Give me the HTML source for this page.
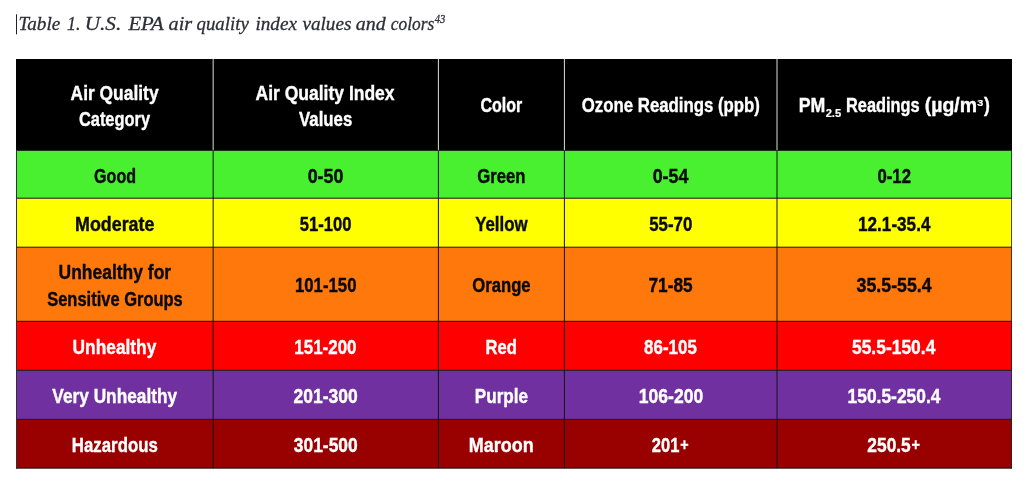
<!DOCTYPE html>
<html lang="en"><head><meta charset="utf-8"><title>Table 1. U.S. EPA air quality index values and colors</title>
<style>
html,body{margin:0;padding:0;background:#fff;}
body{width:1023px;height:487px;overflow:hidden;}
svg{display:block;}
.b{font-family:"Liberation Sans",Arial,sans-serif;font-weight:bold;}
.t{font-family:"Liberation Serif","Times New Roman",serif;font-style:italic;stroke:#2e2e38;stroke-width:0.3px;}
</style></head><body>
<svg width="1023" height="487" viewBox="0 0 1023 487">
<rect x="0" y="0" width="1023" height="487" fill="#ffffff"/>
<rect x="16" y="14.3" width="1" height="20" fill="#222228"/>
<rect x="16" y="59" width="996" height="91.90" fill="#000000"/>
<rect x="16" y="150.9" width="996" height="47.30" fill="#48f030"/>
<rect x="16" y="198.2" width="996" height="49.00" fill="#ffff00"/>
<rect x="16" y="247.2" width="996" height="74.10" fill="#ff780c"/>
<rect x="16" y="321.3" width="996" height="49.00" fill="#ff0000"/>
<rect x="16" y="370.3" width="996" height="49.05" fill="#7030a0"/>
<rect x="16" y="419.35" width="996" height="48.80" fill="#990000"/>
<rect x="16" y="197.70" width="996" height="1" fill="#141414"/>
<rect x="16" y="246.70" width="996" height="1" fill="#141414"/>
<rect x="16" y="320.80" width="996" height="1" fill="#141414"/>
<rect x="16" y="369.80" width="996" height="1" fill="#141414"/>
<rect x="16" y="418.85" width="996" height="1" fill="#141414"/>
<rect x="16" y="467.65" width="996" height="1" fill="#141414"/>
<rect x="16" y="150.9" width="1" height="317.75" fill="#303036"/>
<rect x="1011.2" y="150.9" width="0.8" height="317.75" fill="#222"/>
<rect x="212.65" y="150.9" width="1" height="317.25" fill="#141414"/>
<rect x="437.90" y="150.9" width="1" height="317.25" fill="#141414"/>
<rect x="563.90" y="150.9" width="1" height="317.25" fill="#141414"/>
<rect x="776.50" y="150.9" width="1" height="317.25" fill="#141414"/>
<rect x="212.65" y="59" width="1" height="91.05" fill="#dcdcdc"/>
<rect x="437.90" y="59" width="1" height="91.05" fill="#dcdcdc"/>
<rect x="563.90" y="59" width="1" height="91.05" fill="#dcdcdc"/>
<rect x="776.50" y="59" width="1" height="91.05" fill="#dcdcdc"/>
<text class="b"><tspan x="70.59" y="99.7" font-size="20.6" fill="#ffffff" stroke="#ffffff" stroke-width="0.4" textLength="87.98" lengthAdjust="spacingAndGlyphs">Air Quality</tspan> <tspan x="78.90" y="125.6" font-size="20.6" fill="#ffffff" stroke="#ffffff" stroke-width="0.4" textLength="71.18" lengthAdjust="spacingAndGlyphs">Category</tspan></text>
<text class="b"><tspan x="255.54" y="99.7" font-size="20.6" fill="#ffffff" stroke="#ffffff" stroke-width="0.4" textLength="139.06" lengthAdjust="spacingAndGlyphs">Air Quality Index</tspan> <tspan x="299.10" y="125.6" font-size="20.6" fill="#ffffff" stroke="#ffffff" stroke-width="0.4" textLength="53.18" lengthAdjust="spacingAndGlyphs">Values</tspan></text>
<text class="b" x="480.51" y="112" font-size="20.6" fill="#ffffff" stroke="#ffffff" stroke-width="0.4" textLength="41.86" lengthAdjust="spacingAndGlyphs">Color</text>
<text class="b" x="581.79" y="112" font-size="20.6" fill="#ffffff" stroke="#ffffff" stroke-width="0.4" textLength="178.19" lengthAdjust="spacingAndGlyphs">Ozone Readings (ppb)</text>
<text class="b"><tspan x="798.78" y="112" font-size="20.6" fill="#ffffff" stroke="#ffffff" stroke-width="0.4" textLength="26.61" lengthAdjust="spacingAndGlyphs">PM</tspan><tspan x="825.65" y="116.6" font-size="11" fill="#ffffff" stroke="#ffffff" stroke-width="0.21" textLength="15.52" lengthAdjust="spacingAndGlyphs">2.5</tspan> <tspan x="846.01" y="112" font-size="20.6" fill="#ffffff" stroke="#ffffff" stroke-width="0.4" textLength="73.56" lengthAdjust="spacingAndGlyphs">Readings</tspan> <tspan x="924.77" y="112" font-size="20.6" fill="#ffffff" stroke="#ffffff" stroke-width="0.4" textLength="52.27" lengthAdjust="spacingAndGlyphs">(µg/m</tspan><tspan x="977.35" y="105.9" font-size="9" fill="#ffffff" stroke="#ffffff" stroke-width="0.17" textLength="6.06" lengthAdjust="spacingAndGlyphs">3</tspan><tspan x="983.96" y="112" font-size="20.6" fill="#ffffff" stroke="#ffffff" stroke-width="0.4" textLength="5.87" lengthAdjust="spacingAndGlyphs">)</tspan></text>
<text class="b" x="94.11" y="182.8" font-size="20.6" fill="#0a0a0a" stroke="#0a0a0a" stroke-width="0.4" textLength="41.88" lengthAdjust="spacingAndGlyphs">Good</text>
<text class="b" x="307.66" y="182.8" font-size="20.6" fill="#0a0a0a" stroke="#0a0a0a" stroke-width="0.4" textLength="35.77" lengthAdjust="spacingAndGlyphs">0-50</text>
<text class="b" x="477.24" y="182.8" font-size="20.6" fill="#0a0a0a" stroke="#0a0a0a" stroke-width="0.4" textLength="48.35" lengthAdjust="spacingAndGlyphs">Green</text>
<text class="b" x="652.71" y="182.8" font-size="20.6" fill="#0a0a0a" stroke="#0a0a0a" stroke-width="0.4" textLength="35.67" lengthAdjust="spacingAndGlyphs">0-54</text>
<text class="b" x="877.49" y="182.8" font-size="20.6" fill="#0a0a0a" stroke="#0a0a0a" stroke-width="0.4" textLength="33.50" lengthAdjust="spacingAndGlyphs">0-12</text>
<text class="b" x="75.03" y="230.9" font-size="20.6" fill="#0a0a0a" stroke="#0a0a0a" stroke-width="0.4" textLength="79.36" lengthAdjust="spacingAndGlyphs">Moderate</text>
<text class="b" x="299.70" y="230.9" font-size="20.6" fill="#0a0a0a" stroke="#0a0a0a" stroke-width="0.4" textLength="51.72" lengthAdjust="spacingAndGlyphs">51-100</text>
<text class="b" x="475.15" y="230.9" font-size="20.6" fill="#0a0a0a" stroke="#0a0a0a" stroke-width="0.4" textLength="52.39" lengthAdjust="spacingAndGlyphs">Yellow</text>
<text class="b" x="649.19" y="230.9" font-size="20.6" fill="#0a0a0a" stroke="#0a0a0a" stroke-width="0.4" textLength="43.12" lengthAdjust="spacingAndGlyphs">55-70</text>
<text class="b" x="858.06" y="230.9" font-size="20.6" fill="#0a0a0a" stroke="#0a0a0a" stroke-width="0.4" textLength="72.37" lengthAdjust="spacingAndGlyphs">12.1-35.4</text>
<text class="b"><tspan x="58.55" y="279.2" font-size="20.6" fill="#0a0a0a" stroke="#0a0a0a" stroke-width="0.4" textLength="112.56" lengthAdjust="spacingAndGlyphs">Unhealthy for</tspan> <tspan x="47.15" y="305.6" font-size="20.6" fill="#0a0a0a" stroke="#0a0a0a" stroke-width="0.4" textLength="135.64" lengthAdjust="spacingAndGlyphs">Sensitive Groups</tspan></text>
<text class="b" x="294.98" y="292.2" font-size="20.6" fill="#0a0a0a" stroke="#0a0a0a" stroke-width="0.4" textLength="61.50" lengthAdjust="spacingAndGlyphs">101-150</text>
<text class="b" x="472.24" y="292.2" font-size="20.6" fill="#0a0a0a" stroke="#0a0a0a" stroke-width="0.4" textLength="58.41" lengthAdjust="spacingAndGlyphs">Orange</text>
<text class="b" x="648.48" y="292.2" font-size="20.6" fill="#0a0a0a" stroke="#0a0a0a" stroke-width="0.4" textLength="44.14" lengthAdjust="spacingAndGlyphs">71-85</text>
<text class="b" x="856.53" y="292.2" font-size="20.6" fill="#0a0a0a" stroke="#0a0a0a" stroke-width="0.4" textLength="75.15" lengthAdjust="spacingAndGlyphs">35.5-55.4</text>
<text class="b" x="72.56" y="353.8" font-size="20.6" fill="#ffffff" stroke="#ffffff" stroke-width="0.4" textLength="83.80" lengthAdjust="spacingAndGlyphs">Unhealthy</text>
<text class="b" x="294.32" y="353.8" font-size="20.6" fill="#ffffff" stroke="#ffffff" stroke-width="0.4" textLength="62.17" lengthAdjust="spacingAndGlyphs">151-200</text>
<text class="b" x="485.59" y="353.8" font-size="20.6" fill="#ffffff" stroke="#ffffff" stroke-width="0.4" textLength="31.35" lengthAdjust="spacingAndGlyphs">Red</text>
<text class="b" x="644.09" y="353.8" font-size="20.6" fill="#ffffff" stroke="#ffffff" stroke-width="0.4" textLength="52.73" lengthAdjust="spacingAndGlyphs">86-105</text>
<text class="b" x="851.93" y="353.8" font-size="20.6" fill="#ffffff" stroke="#ffffff" stroke-width="0.4" textLength="83.46" lengthAdjust="spacingAndGlyphs">55.5-150.4</text>
<text class="b" x="52.35" y="402.8" font-size="20.6" fill="#ffffff" stroke="#ffffff" stroke-width="0.4" textLength="124.76" lengthAdjust="spacingAndGlyphs">Very Unhealthy</text>
<text class="b" x="293.58" y="402.8" font-size="20.6" fill="#ffffff" stroke="#ffffff" stroke-width="0.4" textLength="64.18" lengthAdjust="spacingAndGlyphs">201-300</text>
<text class="b" x="474.81" y="402.8" font-size="20.6" fill="#ffffff" stroke="#ffffff" stroke-width="0.4" textLength="53.33" lengthAdjust="spacingAndGlyphs">Purple</text>
<text class="b" x="638.79" y="402.8" font-size="20.6" fill="#ffffff" stroke="#ffffff" stroke-width="0.4" textLength="64.47" lengthAdjust="spacingAndGlyphs">106-200</text>
<text class="b" x="847.55" y="402.8" font-size="20.6" fill="#ffffff" stroke="#ffffff" stroke-width="0.4" textLength="92.92" lengthAdjust="spacingAndGlyphs">150.5-250.4</text>
<text class="b" x="71.83" y="451.9" font-size="20.6" fill="#ffffff" stroke="#ffffff" stroke-width="0.4" textLength="85.98" lengthAdjust="spacingAndGlyphs">Hazardous</text>
<text class="b" x="293.79" y="451.9" font-size="20.6" fill="#ffffff" stroke="#ffffff" stroke-width="0.4" textLength="63.97" lengthAdjust="spacingAndGlyphs">301-500</text>
<text class="b" x="468.77" y="451.9" font-size="20.6" fill="#ffffff" stroke="#ffffff" stroke-width="0.4" textLength="64.86" lengthAdjust="spacingAndGlyphs">Maroon</text>
<text class="b"><tspan x="651.80" y="451.9" font-size="20.6" fill="#ffffff" stroke="#ffffff" stroke-width="0.4" textLength="27.56" lengthAdjust="spacingAndGlyphs">201</tspan><tspan x="680.18" y="450.2" font-size="17" fill="#ffffff" stroke="#ffffff" stroke-width="0.33" textLength="8.39" lengthAdjust="spacingAndGlyphs">+</tspan></text>
<text class="b"><tspan x="867.33" y="451.9" font-size="20.6" fill="#ffffff" stroke="#ffffff" stroke-width="0.4" textLength="43.43" lengthAdjust="spacingAndGlyphs">250.5</tspan><tspan x="911.57" y="450.2" font-size="17" fill="#ffffff" stroke="#ffffff" stroke-width="0.33" textLength="8.50" lengthAdjust="spacingAndGlyphs">+</tspan></text>
<text class="t"><tspan x="18.40" y="29.5" font-size="19.5" fill="#2e2e38" textLength="41.85" lengthAdjust="spacingAndGlyphs">Table</tspan> <tspan x="67.04" y="29.5" font-size="19.5" fill="#2e2e38" textLength="13.46" lengthAdjust="spacingAndGlyphs">1.</tspan> <tspan x="84.73" y="29.5" font-size="19.5" fill="#2e2e38" textLength="36.49" lengthAdjust="spacingAndGlyphs">U.S.</tspan> <tspan x="128.40" y="29.5" font-size="19.5" fill="#2e2e38" textLength="35.30" lengthAdjust="spacingAndGlyphs">EPA</tspan> <tspan x="168.61" y="29.5" font-size="19.5" fill="#2e2e38" textLength="23.64" lengthAdjust="spacingAndGlyphs">air</tspan> <tspan x="196.52" y="29.5" font-size="19.5" fill="#2e2e38" textLength="52.39" lengthAdjust="spacingAndGlyphs">quality</tspan> <tspan x="255.39" y="29.5" font-size="19.5" fill="#2e2e38" textLength="41.59" lengthAdjust="spacingAndGlyphs">index</tspan> <tspan x="302.38" y="29.5" font-size="19.5" fill="#2e2e38" textLength="49.06" lengthAdjust="spacingAndGlyphs">values</tspan> <tspan x="355.87" y="29.5" font-size="19.5" fill="#2e2e38" textLength="29.88" lengthAdjust="spacingAndGlyphs">and</tspan> <tspan x="390.80" y="29.5" font-size="19.5" fill="#2e2e38" textLength="43.39" lengthAdjust="spacingAndGlyphs">colors</tspan><tspan x="434.71" y="22.7" font-size="12.3" fill="#2e2e38" textLength="10.55" lengthAdjust="spacingAndGlyphs">43</tspan></text>
</svg>
</body></html>
